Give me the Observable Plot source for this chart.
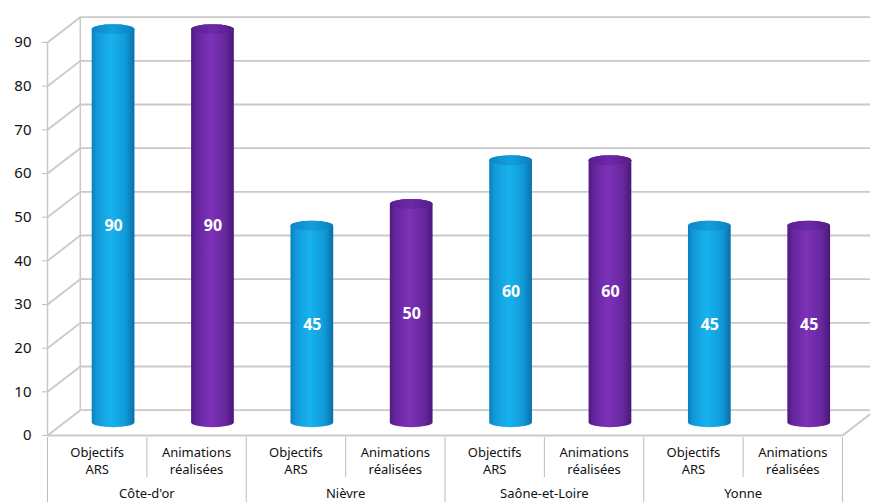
<!DOCTYPE html>
<html>
<head>
<meta charset="utf-8">
<script src="https://cdn.jsdelivr.net/npm/d3@7"></script>
<script src="https://cdn.jsdelivr.net/npm/@observablehq/plot@0.6"></script>
<style>
  html, body { margin: 0; padding: 0; background: #fff; }
  #chart { width: 870px; height: 502px; }
</style>
</head>
<body>
<div id="chart"></div>
<script>
// ---- data ----
const departments = ["Côte-d'or", "Nièvre", "Saône-et-Loire", "Yonne"];
const series = ["Objectifs ARS", "Animations réalisées"];
const objectifs = [90, 45, 60, 45];
const animations = [90, 50, 60, 45];
const yTicks = [0, 10, 20, 30, 40, 50, 60, 70, 80, 90];

// ---- styling / 3D depth (in scale units) ----
const DX = 0.33;   // depth along x (category units)
const DY = 5.8;    // depth along y (value units)
const BW = 0.43;   // cylinder width (category units)
const GRID = "#c9c9c9";

const rows = departments.flatMap((d, i) => [
  {dept: d, series: series[0], value: objectifs[i], k: 2 * i},
  {dept: d, series: series[1], value: animations[i], k: 2 * i + 1}
]);
const blue = rows.filter(r => r.series === series[0]);
const purple = rows.filter(r => r.series === series[1]);
const cx = r => r.k + 0.5 + DX / 2;
const sepMinor = [1, 3, 5, 7];
const sepMajor = [0, 2, 4, 6, 8];

function cylinder(data, body, cap) {
  return [
    Plot.rect(data, {
      x1: r => cx(r) - BW / 2, x2: r => cx(r) + BW / 2,
      y1: () => DY / 2, y2: r => r.value + DY / 2,
      fill: body, rx: 21.5, ry: 5, insetTop: -5, insetBottom: -5
    }),
    Plot.rect(data, {
      x1: r => cx(r) - BW / 2, x2: r => cx(r) + BW / 2,
      y1: r => r.value + DY / 2, y2: r => r.value + DY / 2,
      fill: cap, rx: 21.5, ry: 5, insetTop: -5, insetBottom: -5
    })
  ];
}

const svg = Plot.plot({
  width: 870,
  height: 502,
  marginTop: 42,
  marginBottom: 67,
  marginLeft: 47,
  marginRight: 28,
  style: {fontFamily: "'Noto Sans', 'Open Sans', sans-serif", background: "#fff", color: "#111"},
  x: {domain: [0, 8], axis: null},
  y: {domain: [0, 90], axis: null},
  marks: [
    // back wall gridlines
    Plot.ruleY(yTicks, {y: d => d + DY, x1: () => DX, x2: () => 8 + DX, stroke: GRID, strokeWidth: 1.8}),
    // side wall diagonals
    Plot.link(yTicks, {x1: () => 0, y1: d => d, x2: () => DX, y2: d => d + DY, stroke: GRID, strokeWidth: 1.8}),
    // back-left corner
    Plot.ruleX([DX], {y1: () => DY, y2: () => 90 + DY, stroke: GRID, strokeWidth: 1.5}),
    // front-left axis line
    Plot.ruleX([0], {y1: () => 0, y2: () => 90, stroke: GRID, strokeWidth: 1.5}),
    // floor front edge and right diagonal
    Plot.link([0], {x1: () => 0, y1: () => 0, x2: () => 8, y2: () => 0, stroke: GRID, strokeWidth: 1.8}),
    Plot.link([0], {x1: () => 8, y1: () => 0, x2: () => 8 + DX, y2: () => DY, stroke: GRID, strokeWidth: 1.8}),
    // category table separators
    Plot.ruleX(sepMinor, {x: d => d, y1: () => 0, y2: () => 0, insetTop: 2, insetBottom: -42, stroke: "#bdbdbd"}),
    Plot.ruleX(sepMajor, {x: d => d, y1: () => 0, y2: () => 0, insetTop: 2, insetBottom: -67, stroke: "#bdbdbd"}),
    // cylinders
    ...cylinder(blue, "url(#gBlue)", "url(#gBlueTop)"),
    ...cylinder(purple, "url(#gPurple)", "url(#gPurpleTop)"),
    // value labels
    Plot.text(rows, {x: cx, y: r => r.value / 2 + DY / 2, text: r => String(r.value),
      fill: "white", fontWeight: "bold", fontSize: 16}),
    // y axis
    Plot.axisY({ticks: yTicks, tickSize: 5, tickPadding: 11, fontSize: 15, stroke: "#bdbdbd"}),
    // category labels (two lines)
    Plot.text(rows, {x: r => r.k + 0.5, y: () => 0, text: r => r.series.split(" ")[0],
      dy: 17, fontSize: 13, fill: "#111"}),
    Plot.text(rows, {x: r => r.k + 0.5, y: () => 0, text: r => r.series.split(" ").slice(1).join(" "),
      dy: 34, fontSize: 13, fill: "#111"}),
    Plot.text(departments, {x: (d, i) => 2 * i + 1, y: () => 0, text: d => d,
      dy: 58, fontSize: 13, fill: "#111"})
  ]
});

const defs = `
<linearGradient id="gBlue" x1="0" x2="1" y1="0" y2="0">
  <stop offset="0" stop-color="#0b7fbf"/>
  <stop offset="0.12" stop-color="#1298d8"/>
  <stop offset="0.45" stop-color="#17b3ee"/>
  <stop offset="0.8" stop-color="#1099d8"/>
  <stop offset="1" stop-color="#0a6fa8"/>
</linearGradient>
<linearGradient id="gBlueTop" x1="0" x2="1" y1="0" y2="0">
  <stop offset="0" stop-color="#0d86c6"/>
  <stop offset="0.5" stop-color="#139fdc"/>
  <stop offset="1" stop-color="#0c7fbd"/>
</linearGradient>
<linearGradient id="gPurple" x1="0" x2="1" y1="0" y2="0">
  <stop offset="0" stop-color="#4e1a80"/>
  <stop offset="0.12" stop-color="#63249c"/>
  <stop offset="0.45" stop-color="#7d32b8"/>
  <stop offset="0.8" stop-color="#68279f"/>
  <stop offset="1" stop-color="#4a1878"/>
</linearGradient>
<linearGradient id="gPurpleTop" x1="0" x2="1" y1="0" y2="0">
  <stop offset="0" stop-color="#5a1e90"/>
  <stop offset="0.5" stop-color="#6d2aa8"/>
  <stop offset="1" stop-color="#551c88"/>
</linearGradient>`;
d3.select(svg).insert("defs", ":first-child").html(defs);

document.getElementById("chart").appendChild(svg);
</script>
</body>
</html>
